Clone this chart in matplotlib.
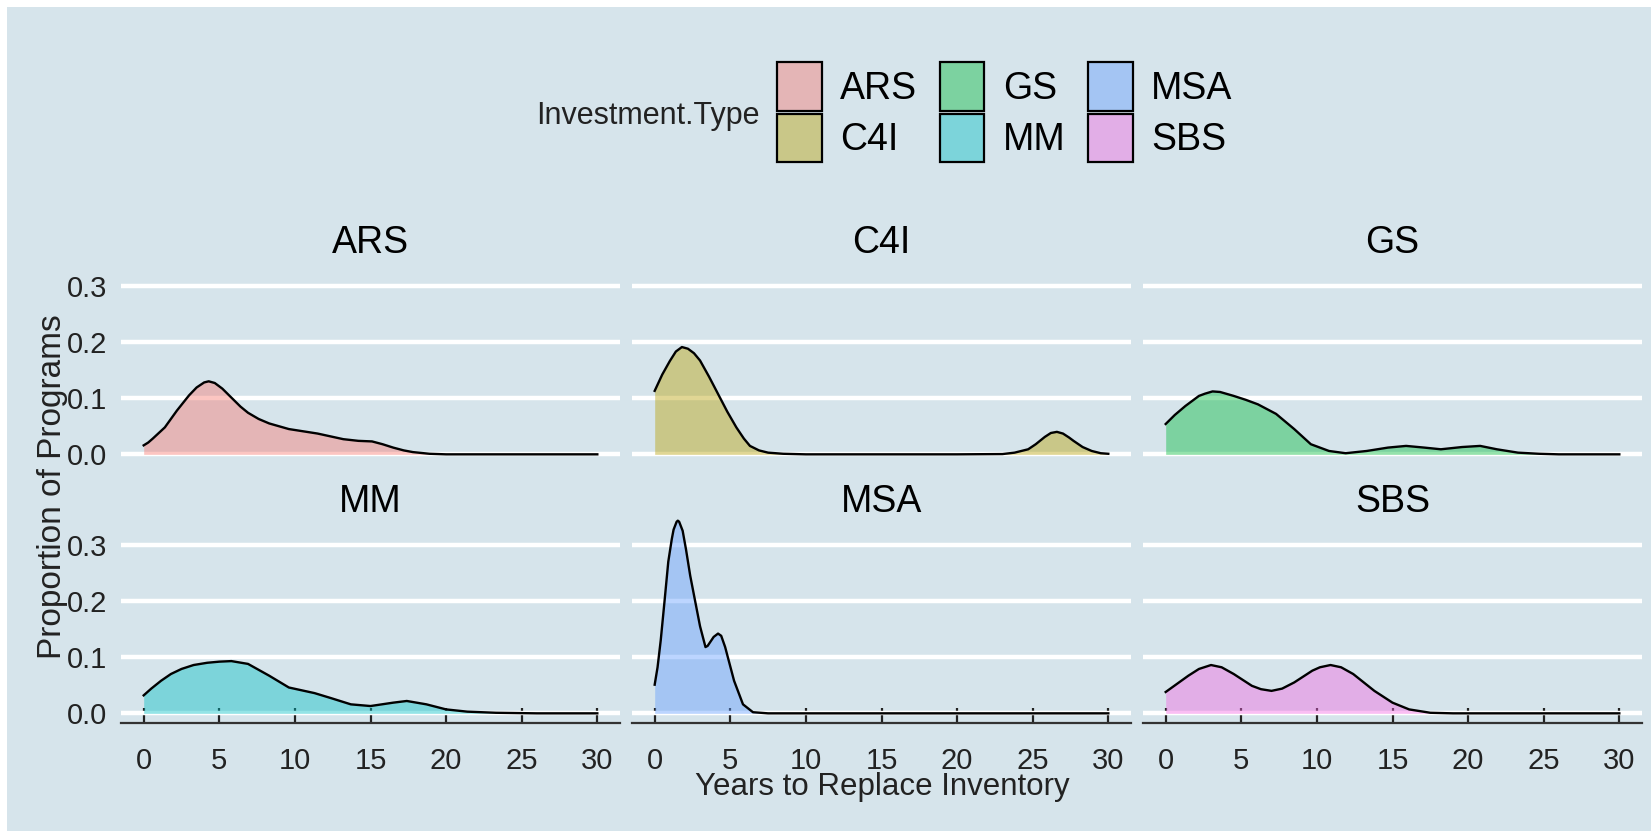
import numpy as np
import matplotlib
matplotlib.use("Agg")
import matplotlib.pyplot as plt
from matplotlib.colors import to_rgba
from matplotlib.patches import Patch, Rectangle

plt.rcParams['font.family'] = ['Liberation Sans', 'DejaVu Sans']

# --- data (density of years to replace inventory) ---
types = ["ARS", "C4I", "GS", "MM", "MSA", "SBS"]
colors = ["#F8766D", "#B79F00", "#00BA38", "#00BFC4", "#619CFF", "#F564E3"]

ars_x = [0, 0.3, 0.6, 1.4, 2.2, 3.0, 3.5, 4.0, 4.3, 4.7, 5.2, 5.8, 6.4, 6.9, 7.6, 8.3, 9.6, 11.5,
         13.2, 14.2, 15.1, 15.8, 16.5, 17.2, 17.8, 18.9, 20, 25, 30]
ars_y = [0.016, 0.021, 0.028, 0.048, 0.078, 0.105, 0.119, 0.128, 0.130, 0.127, 0.117, 0.101, 0.085,
         0.074, 0.063, 0.055, 0.045, 0.037, 0.027, 0.024, 0.023, 0.018, 0.012, 0.007, 0.004,
         0.001, 0.0, 0.0, 0.0]

c4i_x = [0, 0.5, 1.0, 1.4, 1.8, 2.2, 2.6, 3.0, 3.6, 4.2, 4.8, 5.4, 5.9, 6.3, 6.9, 7.5, 8.5, 10, 15,
         20, 23.0, 23.8, 24.7, 25.2, 25.8, 26.2, 26.6, 27.0, 27.4, 27.7, 28.3, 28.9, 29.5, 30]
c4i_y = [0.113, 0.142, 0.166, 0.183, 0.191, 0.188, 0.180, 0.167, 0.138, 0.107, 0.076, 0.048, 0.028,
         0.015, 0.007, 0.003, 0.001, 0, 0, 0, 0.0005, 0.003, 0.009, 0.018, 0.031, 0.038, 0.040,
         0.037, 0.030, 0.024, 0.013, 0.006, 0.002, 0.001]

gs_x = [0, 0.6, 1.3, 2.2, 2.6, 3.1, 3.6, 4.5, 5.3, 6.1, 7.3, 8.5, 9.6, 10.8, 11.9, 13.3, 14.7, 15.9,
        17.1, 18.2, 19.6, 20.8, 21.9, 23.3, 24.7, 26, 30]
gs_y = [0.054, 0.070, 0.086, 0.104, 0.108, 0.112, 0.111, 0.104, 0.097, 0.089, 0.072, 0.045, 0.018,
        0.006, 0.002, 0.006, 0.012, 0.015, 0.012, 0.009, 0.013, 0.015, 0.009, 0.003, 0.001, 0, 0]

mm_x = [0, 0.5, 1.15, 1.8, 2.5, 3.3, 4.2, 5.0, 5.8, 6.9, 8.3, 9.6, 11.3, 12.4, 13.7, 15.0, 16.5,
        17.4, 18.7, 20.0, 21.4, 23.3, 26, 30]
mm_y = [0.032, 0.044, 0.058, 0.070, 0.079, 0.086, 0.090, 0.092, 0.093, 0.088, 0.067, 0.046, 0.036,
        0.027, 0.016, 0.013, 0.019, 0.022, 0.016, 0.007, 0.003, 0.001, 0, 0]

msa_x = [0, 0.19, 0.4, 0.66, 0.9, 1.13, 1.25, 1.45, 1.53, 1.62, 1.85, 2.07, 2.35, 2.66, 3.0, 3.36,
         3.5, 3.9, 4.19, 4.4, 4.66, 5.25, 5.84, 6.5, 7.5, 30]
msa_y = [0.051, 0.082, 0.13, 0.202, 0.27, 0.31, 0.327, 0.341, 0.343, 0.341, 0.325, 0.292, 0.245,
         0.202, 0.155, 0.118, 0.120, 0.136, 0.142, 0.138, 0.118, 0.058, 0.016, 0.002, 0, 0]

sbs_x = [0, 1.5, 2.2, 3.0, 3.7, 4.5, 5.7, 6.3, 7.0, 7.7, 8.5, 9.7, 10.2, 10.9, 11.6, 12.4, 13.8,
         15.0, 16.1, 17.5, 19, 30]
sbs_y = [0.038, 0.067, 0.079, 0.086, 0.082, 0.070, 0.049, 0.043, 0.040, 0.044, 0.055, 0.076, 0.082,
         0.086, 0.082, 0.070, 0.040, 0.019, 0.007, 0.001, 0, 0]

curves = [(ars_x, ars_y), (c4i_x, c4i_y), (gs_x, gs_y), (mm_x, mm_y), (msa_x, msa_y), (sbs_x, sbs_y)]
x_ticks = [0, 5, 10, 15, 20, 25, 30]
y_ticks = [0.0, 0.1, 0.2, 0.3]

BG = "#d6e4eb"
ALPHA = 0.42
INK = "#222222"
W, H = 1651, 831
fig = plt.figure(figsize=(W / 100, H / 100), dpi=100, facecolor="white")
fig.patches.append(Rectangle((7 / W, 0), 1 - 7 / W, 1 - 7 / H, transform=fig.transFigure,
                             facecolor=BG, edgecolor="none", zorder=-10))

lefts = [121, 632, 1143]
tops = [252, 511]
pw, ph = 499, 212

for i, (name, col, (xs, ys)) in enumerate(zip(types, colors, curves)):
    r, c = divmod(i, 3)
    ax = fig.add_axes([lefts[c] / W, 1 - (tops[r] + ph) / H, pw / W, ph / H])
    ax.set_facecolor(BG)
    ax.fill_between(xs, ys, 0, color=col, alpha=ALPHA, lw=0, zorder=3)
    ax.plot(xs, ys, color="black", lw=1.7, zorder=4, solid_joinstyle="round")
    ax.set_xlim(-1.5, 31.5)
    ax.set_ylim(-0.0172, 0.3602)
    ax.set_yticks(y_ticks)
    ax.set_xticks(x_ticks)
    ax.grid(axis="y", color="white", lw=3.2, zorder=1)
    ax.set_axisbelow(True)
    for s in ["top", "right", "left"]:
        ax.spines[s].set_visible(False)
    # facet strip label, baseline sitting right on the panel top
    ax.text(0.5, 0.993, name, transform=ax.transAxes, ha="center", va="baseline",
            fontsize=27, color="black")
    ax.tick_params(axis="y", length=0, pad=10, labelsize=21, labelcolor=INK,
                   labelleft=(c == 0))
    if r == 1:
        ax.spines["bottom"].set_color("#333333")
        ax.spines["bottom"].set_linewidth(1.6)
        ax.tick_params(axis="x", direction="in", length=11, width=1.6, color=INK,
                       pad=17, labelsize=21, labelcolor=INK)
    else:
        ax.spines["bottom"].set_visible(False)
        ax.tick_params(axis="x", length=0, labelbottom=False)
    ax.yaxis.set_major_formatter(matplotlib.ticker.FormatStrFormatter("%.1f"))

fig.text(882 / W, 1 - 795 / H, "Years to Replace Inventory", ha="center", va="baseline",
         fontsize=22.5, color=INK)
fig.text(52 / W, 1 - 487 / H, "Proportion of Programs", ha="center", va="center",
         rotation=90, fontsize=24, color=INK)

handles = [Patch(facecolor=to_rgba(col, ALPHA), edgecolor="black", linewidth=1.6) for col in colors]
fig.legend(handles, types, ncol=3, loc="center", bbox_to_anchor=(1005 / W, 1 - 112 / H),
           frameon=False, fontsize=27, handlelength=1.18, handleheight=1.6, handletextpad=0.5,
           columnspacing=0.6, labelspacing=0.08, borderpad=0)
fig.text(760 / W, 1 - 116 / H, "Investment.Type", ha="right", va="center", fontsize=22,
         color=INK)

fig.savefig("out.png", dpi=100, facecolor="white")
